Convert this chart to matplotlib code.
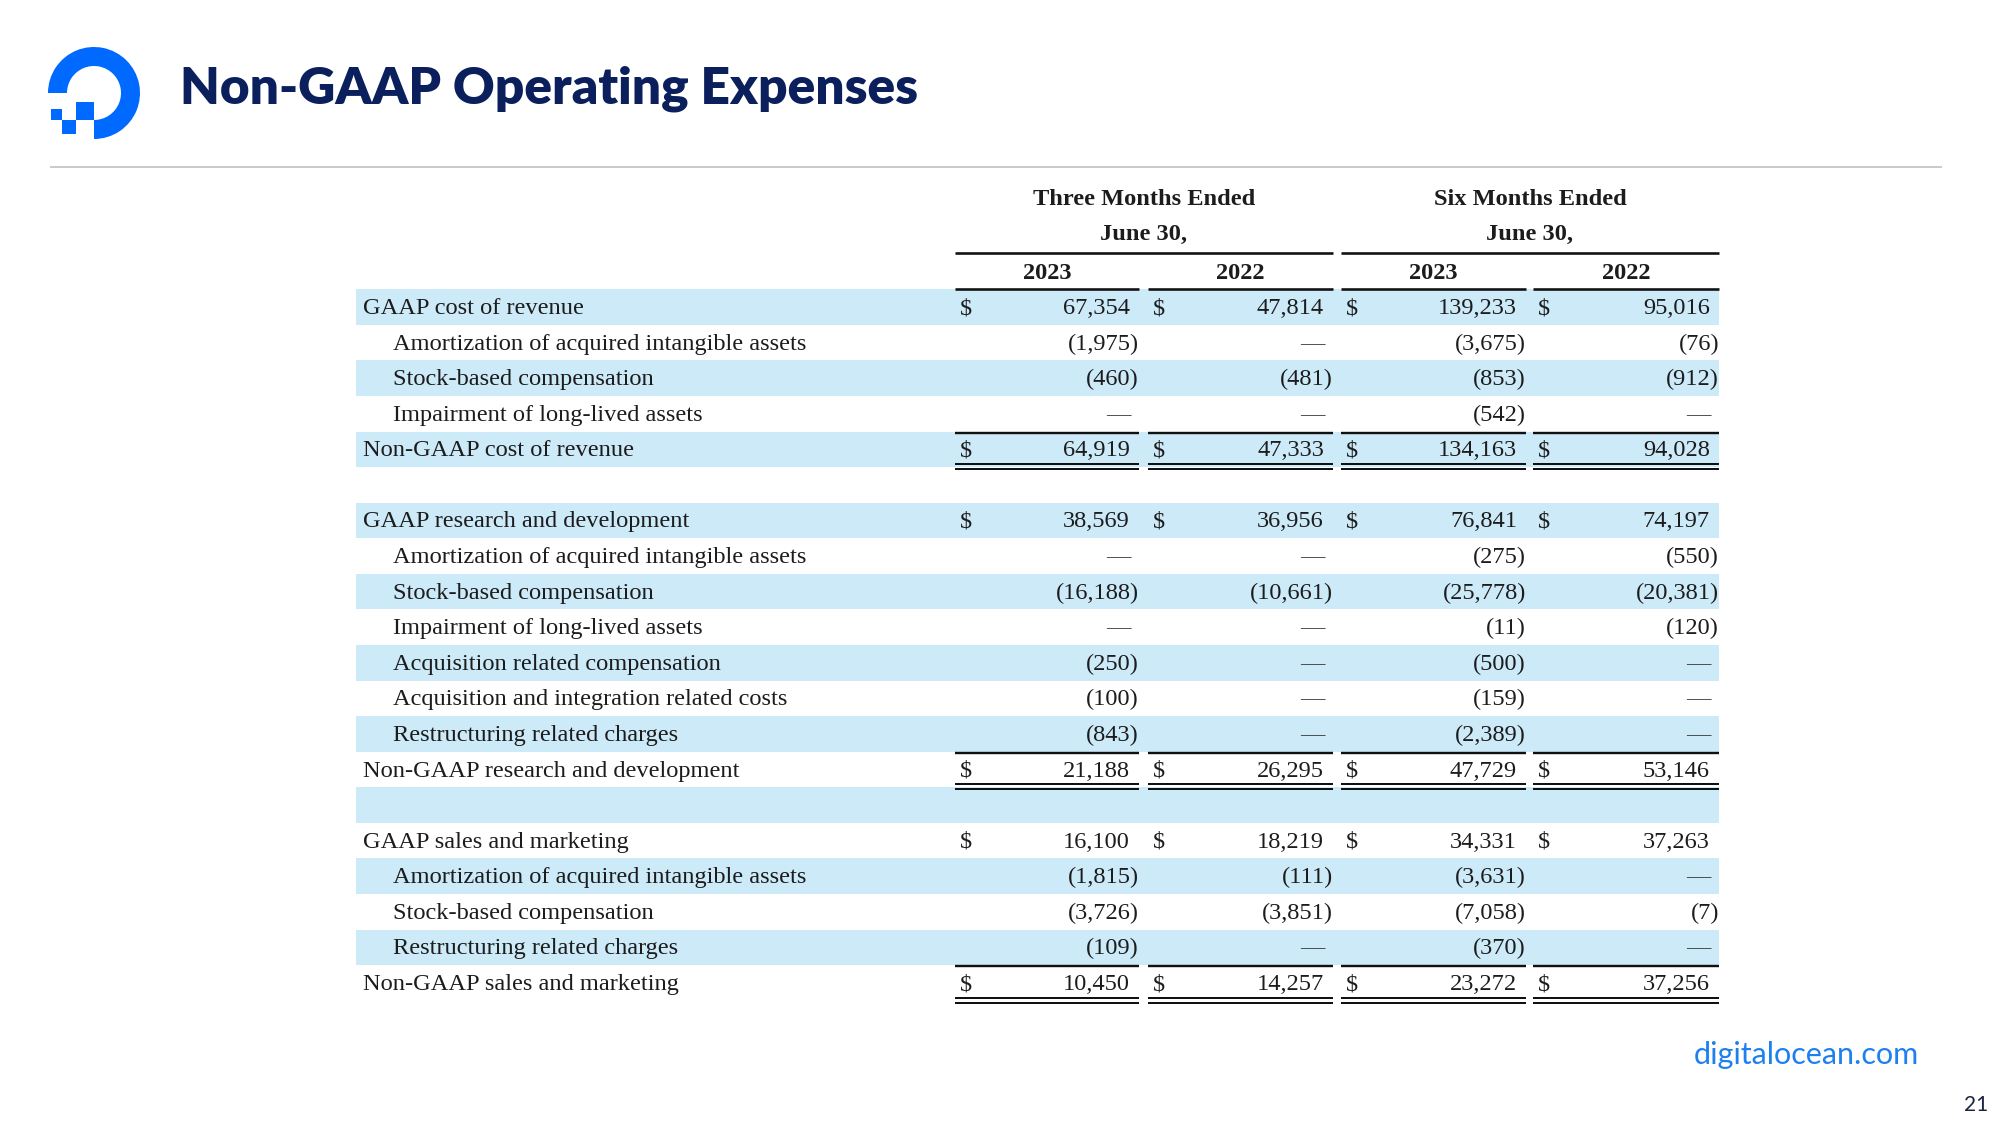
import matplotlib
matplotlib.use("Agg")
import matplotlib.pyplot as plt
from matplotlib.patches import Wedge, Rectangle

# ---------------- data ----------------
row_labels = [
    "GAAP cost of revenue",
    "Amortization of acquired intangible assets",
    "Stock-based compensation",
    "Impairment of long-lived assets",
    "Non-GAAP cost of revenue",
    "",
    "GAAP research and development",
    "Amortization of acquired intangible assets",
    "Stock-based compensation",
    "Impairment of long-lived assets",
    "Acquisition related compensation",
    "Acquisition and integration related costs",
    "Restructuring related charges",
    "Non-GAAP research and development",
    "",
    "GAAP sales and marketing",
    "Amortization of acquired intangible assets",
    "Stock-based compensation",
    "Restructuring related charges",
    "Non-GAAP sales and marketing",
]
three_months_2023 = [67354, -1975, -460, 0, 64919, None, 38569, 0, -16188, 0, -250, -100, -843, 21188,
                     None, 16100, -1815, -3726, -109, 10450]
three_months_2022 = [47814, 0, -481, 0, 47333, None, 36956, 0, -10661, 0, 0, 0, 0, 26295,
                     None, 18219, -111, -3851, 0, 14257]
six_months_2023 = [139233, -3675, -853, -542, 134163, None, 76841, -275, -25778, -11, -500, -159, -2389, 47729,
                   None, 34331, -3631, -7058, -370, 23272]
six_months_2022 = [95016, -76, -912, 0, 94028, None, 74197, -550, -20381, -120, 0, 0, 0, 53146,
                   None, 37263, 0, -7, 0, 37256]
group_headers = ["Three Months Ended\nJune 30,", "Six Months Ended\nJune 30,"]
year_headers = ["2023", "2022", "2023", "2022"]
title = "Non-GAAP Operating Expenses"
footer_url = "digitalocean.com"
page_number = "21"

columns = [three_months_2023, three_months_2022, six_months_2023, six_months_2022]

# ---------------- layout / style ----------------
W, H = 2000, 1125
fig = plt.figure(figsize=(20, 11.25), dpi=100)
ax = fig.add_axes([0, 0, 1, 1])
ax.set_xlim(0, W)
ax.set_ylim(H, 0)
ax.axis("off")

navy = "#0a1f5c"
blue = "#0069ff"
shade = "#cdeaf9"
ink = "#1c1c1c"
serif = ["Liberation Serif", "DejaVu Serif"]
px = 0.72  # points per pixel at dpi 100

# logo
cx, cy, R, wth = 94, 93, 46, 19
ax.add_patch(Wedge((cx, cy), R, 180, 450, width=wth, color=blue, lw=0))
ax.add_patch(Rectangle((76, 102), 18, 18, color=blue, lw=0))
ax.add_patch(Rectangle((62, 120), 14, 14, color=blue, lw=0))
ax.add_patch(Rectangle((51, 109), 11, 11, color=blue, lw=0))

# title
ax.text(180, 104, title, fontsize=37, fontweight="heavy", family=["Lato", "DejaVu Sans"],
        color=navy, va="baseline", ha="left")
ax.plot([50, 1942], [167, 167], color="#cacaca", lw=2 * px, solid_capstyle="butt")

# table geometry
tbl_left, tbl_right = 356, 1719
col_left = [955, 1148, 1341, 1533]
col_right = [1139, 1333, 1526, 1719]
row0, pitch = 307, 35.58
half = pitch / 2
fs = 17.6

def ry(i):
    return row0 + i * pitch

# headers
for g, (a, b) in enumerate([(0, 1), (2, 3)]):
    xc = (col_left[a] + col_right[b]) / 2
    l1, l2 = group_headers[g].split("\n")
    ax.text(xc, 205, l1, ha="center", va="baseline", fontsize=fs, fontweight="bold", family=serif, color=ink)
    ax.text(xc, 240, l2, ha="center", va="baseline", fontsize=fs, fontweight="bold", family=serif, color=ink)
    ax.plot([col_left[a], col_right[b]], [253, 253], color="#111111", lw=2.6 * px, solid_capstyle="butt")
for c in range(4):
    xc = (col_left[c] + col_right[c]) / 2
    ax.text(xc, 279, year_headers[c], ha="center", va="baseline", fontsize=fs, fontweight="bold",
            family=serif, color=ink)
    ax.plot([col_left[c], col_right[c]], [288.5, 288.5], color="#111111", lw=2.6 * px, solid_capstyle="butt")

def fmt(v):
    if v == 0:
        return "\u2014", False
    if v < 0:
        return "({:,})".format(-v), True
    return "{:,}".format(v), False

for i, label in enumerate(row_labels):
    y = ry(i)
    if i % 2 == 0:
        ax.add_patch(Rectangle((tbl_left, y - half), tbl_right - tbl_left, pitch, color=shade, lw=0, zorder=0))
    if not label:
        continue
    is_main = label.startswith("GAAP") or label.startswith("Non-GAAP")
    is_total = label.startswith("Non-GAAP")
    lx = 363 if is_main else 393
    ax.text(lx, y + 7, label, ha="left", va="baseline", fontsize=fs, family=serif, color=ink)
    for c in range(4):
        v = columns[c][i]
        if v is None:
            continue
        s, paren = fmt(v)
        xr = col_right[c] if paren else col_right[c] - 9
        col = "#444444" if v == 0 else ink
        ax.text(xr, y + 7, s, ha="right", va="baseline", fontsize=fs, family=serif, color=col)
        if is_main:
            ax.text(col_left[c] + 5, y + 7, "$", ha="left", va="baseline", fontsize=fs, family=serif, color=ink)
        if is_total:
            ax.plot([col_left[c], col_right[c]], [y - half + 1, y - half + 1], color="#111111",
                    lw=2.4 * px, solid_capstyle="butt")
            for dy in (14.5, 19.5):
                ax.plot([col_left[c], col_right[c]], [y + dy, y + dy], color="#111111",
                        lw=2.0 * px, solid_capstyle="butt")

# footer
ax.text(1694, 1064, footer_url, fontsize=22, family=["Lato", "DejaVu Sans"], color="#1e80ef",
        ha="left", va="baseline")
ax.text(1988, 1111, page_number, fontsize=15, family=["Lato", "DejaVu Sans"], color="#1a2440",
        ha="right", va="baseline")

fig.savefig("out.png", dpi=100, facecolor="white")
